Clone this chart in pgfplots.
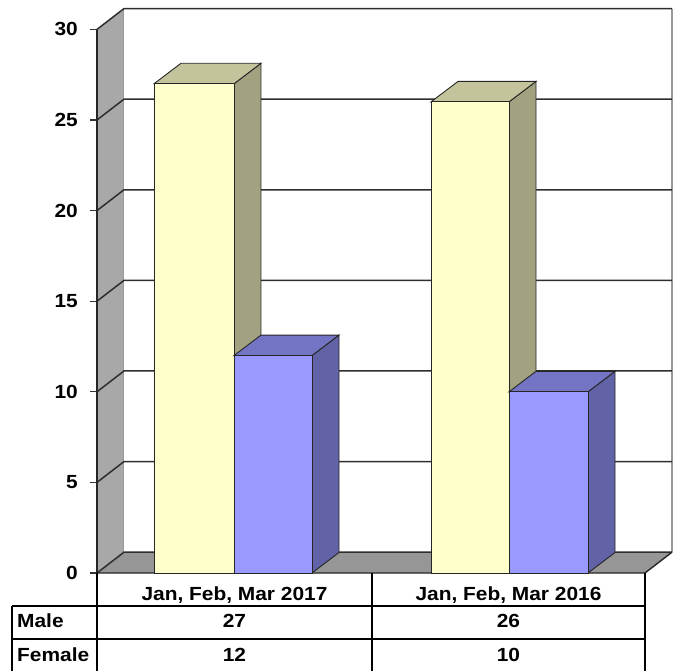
\documentclass[border=0pt]{standalone}
\usepackage{fontspec}
\setmainfont{Liberation Sans}[FakeStretch=1.1]
\usepackage{pgfplots}
\pgfplotsset{compat=1.18}
\definecolor{maleF}{HTML}{FFFFCC}
\definecolor{maleT}{HTML}{C4C49C}
\definecolor{maleS}{HTML}{A2A280}
\definecolor{femF}{HTML}{9999FF}
\definecolor{femT}{HTML}{7474C4}
\definecolor{femS}{HTML}{6262A6}
\definecolor{wallc}{HTML}{A8A8A8}
\definecolor{floorc}{HTML}{969696}
\newcommand{\tf}{\fontsize{19}{20}\selectfont\bfseries}
\begin{document}
\begin{tikzpicture}
\begin{axis}[
  x=1pt, y=18.12pt,
  xmin=0, xmax=548, ymin=0, ymax=30,
  axis x line=none,
  axis y line*=left,
  ytick={0,5,...,30},
  tick align=outside,
  major tick length=7pt,
  y axis line style={black!80, line width=1.2pt},
  ytick style={black!80, line width=1.2pt},
  yticklabel style={font=\tf, inner sep=0pt, xshift=-12pt},
  /pgf/number format/assume math mode=true,
  clip=false,
]
% walls and floor
\fill[wallc] (0,0) -- (0,30) -- (27,31.15) -- (27,1.15) -- cycle;
\fill[floorc] (0,0) -- (27,1.15) -- (575,1.15) -- (548,0) -- cycle;
\draw[black!40, line width=1pt] (27,1.15) -- (27,31.15);
\draw[black!40, line width=1.2pt] (575,1.15) -- (575,31.15);
\pgfplotsinvokeforeach{0,5,10,15,20,25,30}{
  \draw[black!82, line width=1.5pt] (0,#1) -- (27,#1+1.15) -- (575,#1+1.15);
}
\draw[black!85, line width=1.4pt] (0,0) -- (548,0) -- (575,1.15);
\draw[black!85, line width=1.2pt] (0,0) -- (0,30);
% bars: Jan, Feb, Mar 2017
\addplot[fill=maleS, draw=black!85, line width=0.9pt, mark=none] coordinates {(137,0) (164,1.13) (164,28.13) (137,27)} -- cycle;
\addplot[fill=maleT, draw=black!85, line width=0.9pt, mark=none] coordinates {(57,27) (137,27) (164,28.13) (84,28.13)} -- cycle;
\addplot[fill=maleF, draw=black!85, line width=0.9pt, mark=none] coordinates {(57,0) (57,27) (137,27) (137,0)} -- cycle;
\addplot[fill=femS, draw=black!85, line width=0.9pt, mark=none] coordinates {(215,0) (242,1.13) (242,13.13) (215,12)} -- cycle;
\addplot[fill=femT, draw=black!85, line width=0.9pt, mark=none] coordinates {(137,12) (215,12) (242,13.13) (164,13.13)} -- cycle;
\addplot[fill=femF, draw=black!85, line width=0.9pt, mark=none] coordinates {(137,0) (137,12) (215,12) (215,0)} -- cycle;
% bars: Jan, Feb, Mar 2016
\addplot[fill=maleS, draw=black!85, line width=0.9pt, mark=none] coordinates {(412,0) (439,1.13) (439,27.13) (412,26)} -- cycle;
\addplot[fill=maleT, draw=black!85, line width=0.9pt, mark=none] coordinates {(334,26) (412,26) (439,27.13) (361,27.13)} -- cycle;
\addplot[fill=maleF, draw=black!85, line width=0.9pt, mark=none] coordinates {(334,0) (334,26) (412,26) (412,0)} -- cycle;
\addplot[fill=femS, draw=black!85, line width=0.9pt, mark=none] coordinates {(491,0) (518,1.13) (518,11.13) (491,10)} -- cycle;
\addplot[fill=femT, draw=black!85, line width=0.9pt, mark=none] coordinates {(412,10) (491,10) (518,11.13) (439,11.13)} -- cycle;
\addplot[fill=femF, draw=black!85, line width=0.9pt, mark=none] coordinates {(412,0) (412,10) (491,10) (491,0)} -- cycle;
% data table
\draw[black, line width=1.2pt] (0,0) -- (0,-5.46);
\draw[black, line width=1.2pt] (275,0) -- (275,-5.46);
\draw[black, line width=1.2pt] (548,0) -- (548,-5.46);
\draw[black, line width=1.2pt] (-85,-1.82) -- (-85,-5.46);
\draw[black, line width=1.2pt] (-85,-1.82) -- (548,-1.82);
\draw[black, line width=1.2pt] (-85,-3.64) -- (548,-3.64);
\draw[black, line width=1.2pt] (-85,-5.46) -- (548,-5.46);
\node[font=\tf, anchor=base, inner sep=0pt] at (137.5,-1.545) {Jan, Feb, Mar 2017};
\node[font=\tf, anchor=base, inner sep=0pt] at (411.5,-1.545) {Jan, Feb, Mar 2016};
\node[font=\tf, anchor=base west, inner sep=0pt] at (-80,-3.035) {Male};
\node[font=\tf, anchor=base west, inner sep=0pt] at (-80,-4.857) {Female};
\node[font=\tf, anchor=base, inner sep=0pt] at (137.5,-3.035) {27};
\node[font=\tf, anchor=base, inner sep=0pt] at (411.5,-3.035) {26};
\node[font=\tf, anchor=base, inner sep=0pt] at (137.5,-4.857) {12};
\node[font=\tf, anchor=base, inner sep=0pt] at (411.5,-4.857) {10};
\coordinate (BL) at (-97,-5.408);
\coordinate (TR) at (576,31.623);
\end{axis}
\pgfresetboundingbox
\useasboundingbox (BL) rectangle (TR);
\end{tikzpicture}
\end{document}
